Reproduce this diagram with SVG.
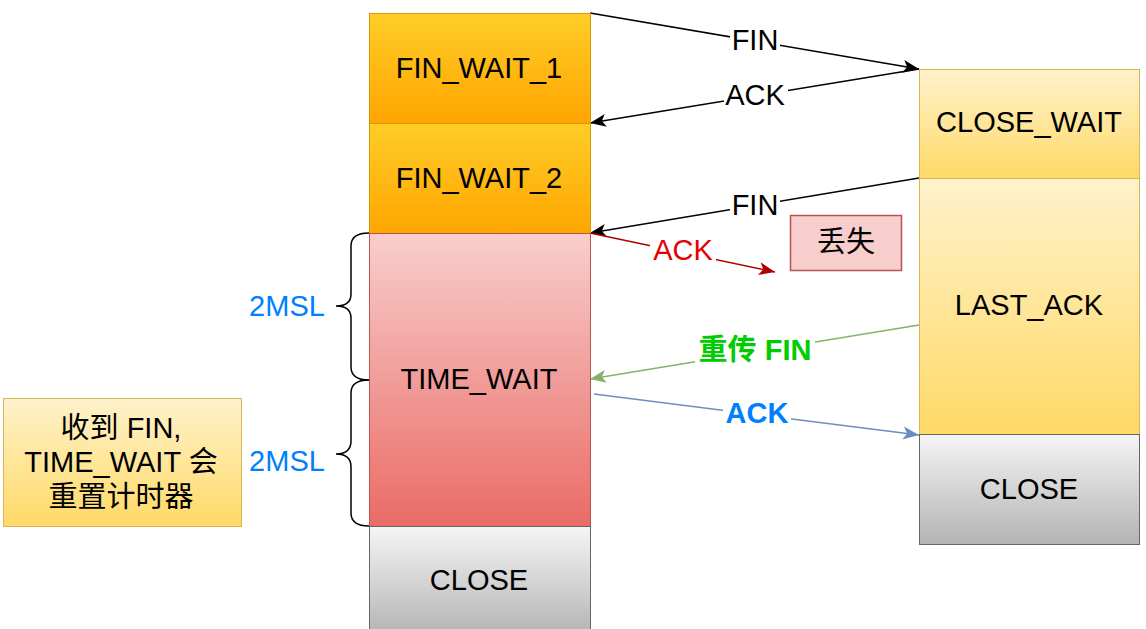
<svg xmlns="http://www.w3.org/2000/svg" width="1146" height="629" viewBox="0 0 1146 629">
<defs>
<linearGradient id="gOrange" x1="0" y1="0" x2="0" y2="1"><stop offset="0" stop-color="#ffcd28"/><stop offset="1" stop-color="#ffa500"/></linearGradient>
<linearGradient id="gRed" x1="0" y1="0" x2="0" y2="1"><stop offset="0" stop-color="#f8cecc"/><stop offset="1" stop-color="#ea6b66"/></linearGradient>
<linearGradient id="gGray" x1="0" y1="0" x2="0" y2="1"><stop offset="0" stop-color="#f5f5f5"/><stop offset="1" stop-color="#b3b3b3"/></linearGradient>
<linearGradient id="gYellow" x1="0" y1="0" x2="0" y2="1"><stop offset="0" stop-color="#fff2cc"/><stop offset="1" stop-color="#ffd966"/></linearGradient>
<marker id="aBlack" markerUnits="userSpaceOnUse" markerWidth="18" markerHeight="14" refX="16" refY="7" orient="auto"><path d="M0,0.5 L16,7 L0,13.5 L4,7 Z" fill="#000"/></marker>
<marker id="aRed" markerUnits="userSpaceOnUse" markerWidth="18" markerHeight="14" refX="16" refY="7" orient="auto"><path d="M0,0.5 L16,7 L0,13.5 L4,7 Z" fill="#b20000"/></marker>
<marker id="aGreen" markerUnits="userSpaceOnUse" markerWidth="18" markerHeight="14" refX="16" refY="7" orient="auto"><path d="M0,0.5 L16,7 L0,13.5 L4,7 Z" fill="#82b366"/></marker>
<marker id="aBlue" markerUnits="userSpaceOnUse" markerWidth="18" markerHeight="14" refX="16" refY="7" orient="auto"><path d="M0,0.5 L16,7 L0,13.5 L4,7 Z" fill="#6c8ebf"/></marker>
</defs>
<style>
text{font-family:"Liberation Sans","Noto Sans CJK SC",sans-serif;font-size:29px;text-anchor:middle;fill:#000}
.orange{fill:url(#gOrange);stroke:#d79b00;stroke-width:1}
.red{fill:url(#gRed);stroke:#b85450;stroke-width:1}
.gray{fill:url(#gGray);stroke:#666666;stroke-width:1}
.yellow{fill:url(#gYellow);stroke:#d6b656;stroke-width:1}
.lost{fill:#f8cecc;stroke:#b85450;stroke-width:1.5}
.edge{fill:none;stroke-width:1.5}
.lbl{fill:#fff}
.brace{fill:none;stroke:#000;stroke-width:1.5}
.msl{fill:#007fff}
</style>
<rect width="1146" height="629" fill="#fff"/>
<g id="connectors">
<line class="edge" x1="590" y1="13" x2="919" y2="69" stroke="#000" marker-end="url(#aBlack)"/>
<line class="edge" x1="919" y1="69" x2="590" y2="123" stroke="#000" marker-end="url(#aBlack)"/>
<line class="edge" x1="919" y1="178" x2="590" y2="233" stroke="#000" marker-end="url(#aBlack)"/>
<line class="edge" x1="590" y1="233" x2="775" y2="272" stroke="#b20000" marker-end="url(#aRed)"/>
<line class="edge" x1="919" y1="325" x2="590" y2="379" stroke="#82b366" marker-end="url(#aGreen)"/>
<line class="edge" x1="594" y1="394" x2="919" y2="435" stroke="#6c8ebf" marker-end="url(#aBlue)"/>
<rect class="lbl" x="730" y="28" width="50" height="24"/>
<text x="755" y="50">FIN</text>
<rect class="lbl" x="724" y="83" width="64" height="24"/>
<text x="755" y="105">ACK</text>
<rect class="lbl" x="730" y="193" width="50" height="24"/>
<text x="755" y="215">FIN</text>
<rect class="lbl" x="650" y="238" width="66" height="24"/>
<text x="683" y="260" style="fill:#e60000">ACK</text>
<rect class="lbl" x="695" y="338" width="120" height="26"/>
<text x="755" y="360" style="fill:#00cc00;font-weight:bold">重传 FIN</text>
<rect class="lbl" x="723" y="401" width="68" height="24"/>
<text x="757" y="423" style="fill:#007fff;font-weight:bold">ACK</text>
</g>
<g id="fin_wait_1"><rect class="orange" x="369.5" y="13.5" width="221" height="110"/><text x="479" y="78">FIN_WAIT_1</text></g>
<g id="fin_wait_2"><rect class="orange" x="369.5" y="123.5" width="221" height="110"/><text x="479" y="188">FIN_WAIT_2</text></g>
<g id="time_wait"><rect class="red" x="369.5" y="233.5" width="221" height="293"/><text x="479" y="389">TIME_WAIT</text></g>
<g id="close_left"><rect class="gray" x="369.5" y="526.5" width="221" height="110"/><text x="479" y="590">CLOSE</text></g>
<g id="close_wait"><rect class="yellow" x="919.5" y="69.5" width="220" height="109"/><text x="1029" y="132">CLOSE_WAIT</text></g>
<g id="last_ack"><rect class="yellow" x="919.5" y="178.5" width="220" height="256"/><text x="1029" y="315">LAST_ACK</text></g>
<g id="close_right"><rect class="gray" x="919.5" y="434.5" width="220" height="110"/><text x="1029" y="499">CLOSE</text></g>
<g id="lost"><rect class="lost" x="790.5" y="215.5" width="111" height="55"/><text x="846" y="252">丢失</text></g>
<g id="brace_top"><path class="brace" d="M369,233 Q351,233 351,246 L351,294 Q351,306 336,306 Q351,306 351,318 L351,367 Q351,380 369,380"/><text class="msl" x="287" y="316">2MSL</text></g>
<g id="brace_bottom"><path class="brace" d="M369,380 Q351,380 351,393 L351,441 Q351,454 336,454 Q351,454 351,467 L351,513 Q351,526 369,526"/><text class="msl" x="287" y="471">2MSL</text></g>
<g id="note"><rect class="yellow" x="3.5" y="398.5" width="238" height="128"/>
<text x="121" y="438">收到 FIN,</text>
<text x="121" y="472">TIME_WAIT 会</text>
<text x="121" y="507">重置计时器</text></g>
</svg>
